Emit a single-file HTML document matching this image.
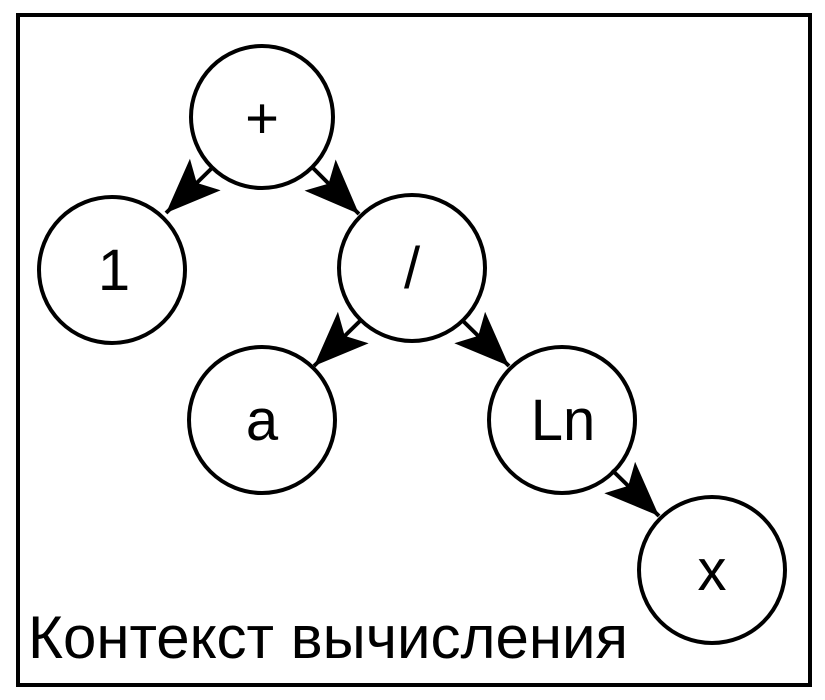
<!DOCTYPE html>
<html><head><meta charset="utf-8"><style>body{margin:0;background:#fff}svg{display:block}</style></head>
<body>
<svg width="825" height="700" xmlns="http://www.w3.org/2000/svg">
<defs>
<marker id="a" markerUnits="userSpaceOnUse" markerWidth="70" markerHeight="50" refX="55" refY="22" orient="auto">
<path d="M0,0 L55,22 L0,44 L12,22 Z" fill="#000"/>
</marker>
</defs>
<rect x="18" y="15" width="792" height="670" fill="#fff" stroke="#000" stroke-width="4"/>
<g fill="#fff" stroke="#000" stroke-width="4">
<circle cx="262" cy="117" r="71"/>
<circle cx="112" cy="270" r="73"/>
<circle cx="412" cy="268" r="73"/>
<circle cx="262" cy="420" r="73"/>
<circle cx="562" cy="420" r="73"/>
<circle cx="712" cy="570" r="73"/>
</g>
<g stroke="#000" stroke-width="4" marker-end="url(#a)">
<line x1="212" y1="168" x2="166" y2="213"/>
<line x1="312" y1="167" x2="359" y2="214"/>
<line x1="361" y1="320" x2="314" y2="366"/>
<line x1="462" y1="320" x2="509" y2="366"/>
<line x1="612" y1="470" x2="659" y2="516"/>
</g>
<g font-family="Liberation Sans, sans-serif" font-size="58" text-anchor="middle">
<text x="262" y="138">+</text>
<text x="114" y="290">1</text>
<text x="412" y="288">/</text>
<text x="262" y="440">a</text>
<text x="563" y="440">Ln</text>
<text x="712" y="590">x</text>
</g>
<text x="28" y="658" font-family="Liberation Sans, sans-serif" font-size="60">Контекст вычисления</text>
</svg>
</body></html>
